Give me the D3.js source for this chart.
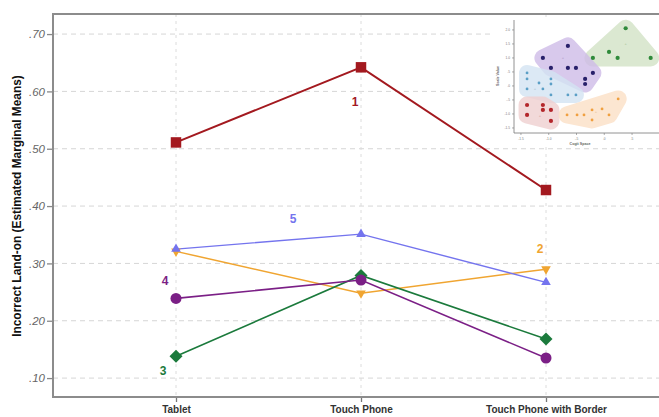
<!DOCTYPE html>
<html>
<head>
<meta charset="utf-8">
<script src="https://cdn.jsdelivr.net/npm/d3@7"></script>
<style>
  html, body { margin: 0; padding: 0; background: #fff; }
  svg { display: block; }
  text { font-family: "Liberation Sans", Arial, sans-serif; }
</style>
</head>
<body>
<svg id="chart" width="659" height="417"></svg>
<script>
// ---------- data ----------
const categories = ["Tablet", "Touch Phone", "Touch Phone with Border"];
const yTicks = [0.10, 0.20, 0.30, 0.40, 0.50, 0.60, 0.70];
const seriesNames = ["1", "2", "3", "4", "5"];
const series1 = [0.511, 0.642, 0.428];
const series2 = [0.321, 0.248, 0.290];
const series3 = [0.138, 0.279, 0.168];
const series4 = [0.239, 0.271, 0.135];
const series5 = [0.325, 0.351, 0.267];
const seriesColors = ["#a3191f", "#f0a531", "#1b7a3c", "#7b1f86", "#7474ee"];
const seriesSymbols = ["square", "triangleDown", "diamond", "circle", "triangleUp"];
const yTitle = "Incorrect Land-on (Estimated Marginal Means)";

// inset scatter (cluster illustration) data, in inset units
const insetXTicks = [1, 2, 3, 4, 5];
const insetYTicks = [1, 2, 3, 4, 5, 6, 7, 8];
const insetXLabels = ["-1.5", "-1.0", "-.5", ".0", ".5"];
const insetYLabels = ["-1.5", "-1.0", "-.5", ".0", ".5", "1.0", "1.5", "2.0"];
const clusterGreenX = [4.77, 4.17, 3.59, 4.48, 5.67];
const clusterGreenY = [8.12, 6.43, 6.00, 6.00, 6.00];
const clusterPurpleX = [1.79, 2.69, 2.08, 2.69, 2.98, 3.31, 3.31, 3.59];
const clusterPurpleY = [6.00, 6.86, 5.29, 5.29, 5.29, 4.50, 4.14, 4.93];
const clusterBlueX = [1.22, 1.22, 1.22, 1.65, 2.08, 2.08, 1.79, 2.08, 2.69, 2.98];
const clusterBlueY = [4.93, 4.50, 3.79, 4.21, 4.50, 4.14, 3.79, 3.36, 3.36, 3.36];
const clusterRedX = [1.22, 1.79, 1.79, 2.08, 1.22, 2.08];
const clusterRedY = [2.64, 2.64, 2.29, 2.29, 1.93, 1.50];
const clusterOrangeX = [4.50, 3.56, 3.92, 3.02, 2.66, 3.27, 4.17, 3.56];
const clusterOrangeY = [3.07, 2.29, 2.36, 1.93, 1.93, 1.93, 1.93, 1.57];
const centroidX = [4.77, 2.51, 1.50, 1.68, 3.70];
const centroidY = [7.00, 6.00, 3.79, 1.86, 2.15];

// ---------- chart ----------
const svg = d3.select("#chart");
const mLeft = 53, mTop = 14, mRight = 659, mBottom = 397;

const x = d3.scalePoint().domain(categories).range([176, 546]);
const y = d3.scaleLinear().domain([0.067, 0.735]).range([mBottom, mTop]);

// gridlines
const grid = svg.append("g");
grid.selectAll("line.h").data(yTicks).join("line")
  .attr("x1", mLeft).attr("x2", mRight)
  .attr("y1", d => y(d)).attr("y2", d => y(d))
  .attr("stroke", "#d6d6d6").attr("stroke-width", 1).attr("stroke-dasharray", "5,4");
grid.selectAll("line.v").data(categories).join("line")
  .attr("x1", d => x(d)).attr("x2", d => x(d))
  .attr("y1", mTop).attr("y2", mBottom)
  .attr("stroke", "#dcdcdc").attr("stroke-width", 1).attr("stroke-dasharray", "3,4");

// axes
const yAxis = d3.axisLeft(y).tickValues(yTicks).tickSize(6).tickPadding(2)
  .tickFormat(d => d3.format(".2f")(d).replace(/^0/, ""));
const gy = svg.append("g").attr("transform", `translate(${mLeft},0)`).call(yAxis);
gy.select(".domain").remove();
gy.selectAll(".tick line").attr("stroke", "#888").attr("stroke-width", 1.3);
gy.selectAll(".tick text").attr("fill", "#666").attr("font-size", 11.5).attr("font-style", "italic");

const xAxis = d3.axisBottom(x).tickSize(5).tickPadding(4);
const gx = svg.append("g").attr("transform", `translate(0,${mBottom})`).call(xAxis);
gx.select(".domain").remove();
gx.selectAll(".tick line").attr("stroke", "#777").attr("stroke-width", 1.3);
gx.selectAll(".tick text").attr("fill", "#333").attr("font-size", 10).attr("font-weight", "bold");

// frame
svg.append("path")
  .attr("d", `M${mRight},${mTop}H${mLeft}V${mBottom}H${mRight}`)
  .attr("fill", "none").attr("stroke", "#8c8c8c").attr("stroke-width", 2);

// y title
svg.append("text")
  .attr("transform", `translate(21,206) rotate(-90)`)
  .attr("text-anchor", "middle").attr("font-size", 11.9).attr("font-weight", "bold")
  .attr("fill", "#111").text(yTitle);

// ---------- inset ----------
const inset = svg.append("g");
inset.append("rect").attr("x", 493).attr("y", 17).attr("width", 166).attr("height", 128).attr("fill", "#fff");
const ix = d3.scaleLinear().domain([0.75, 5.97]).range([514, 659]);
const iy = d3.scaleLinear().domain([0.64, 8.71]).range([133, 20]);

const clusters = [
  { xs: clusterGreenX, ys: clusterGreenY, fill: "#d3e3c6", dot: "#2f8a3a", r: 2.1, pad: 17 },
  { xs: clusterPurpleX, ys: clusterPurpleY, fill: "#cfbce8", dot: "#28206a", r: 2.1, pad: 17 },
  { xs: clusterBlueX, ys: clusterBlueY, fill: "#d4e4f3", dot: "#5b9fc6", r: 1.4, pad: 16 },
  { xs: clusterRedX, ys: clusterRedY, fill: "#f0d0d0", dot: "#b3262b", r: 2.1, pad: 17 },
  { xs: clusterOrangeX, ys: clusterOrangeY, fill: "#fce0c6", dot: "#f0a040", r: 1.4, pad: 17 }
];
const centroidColors = ["#9fbf92", "#a893c8", "#9fb8cc", "#c99a9a", "#e6b98c"];

clusters.forEach(c => {
  const pts = c.xs.map((v, i) => [ix(v), iy(c.ys[i])]);
  const hull = d3.polygonHull(pts);
  inset.append("g").attr("opacity", 0.8)
    .append("path")
    .attr("d", "M" + hull.map(p => p.join(",")).join("L") + "Z")
    .attr("fill", c.fill).attr("stroke", c.fill)
    .attr("stroke-width", c.pad).attr("stroke-linejoin", "round");
});
clusters.forEach(c => {
  inset.selectAll(null).data(c.xs).join("circle")
    .attr("cx", d => ix(d)).attr("cy", (d, i) => iy(c.ys[i]))
    .attr("r", c.r).attr("fill", c.dot);
});
inset.selectAll("text.cent").data(centroidX).join("text")
  .attr("x", d => ix(d)).attr("y", (d, i) => iy(centroidY[i]) + 1.5)
  .attr("text-anchor", "middle").attr("font-size", 4).attr("fill", (d, i) => centroidColors[i])
  .text("+");

// inset axes
inset.append("path").attr("d", `M514,20V133H659`).attr("fill", "none")
  .attr("stroke", "#777").attr("stroke-width", 0.8);
inset.selectAll("line.ixt").data(insetXTicks).join("line")
  .attr("x1", d => ix(d)).attr("x2", d => ix(d)).attr("y1", 133).attr("y2", 135)
  .attr("stroke", "#777").attr("stroke-width", 0.6);
inset.selectAll("text.ixl").data(insetXTicks).join("text")
  .attr("x", d => ix(d)).attr("y", 139.5).attr("text-anchor", "middle")
  .attr("font-size", 3.2).attr("fill", "#777").text((d, i) => insetXLabels[i]);
inset.selectAll("line.iyt").data(insetYTicks).join("line")
  .attr("x1", 512).attr("x2", 514).attr("y1", d => iy(d)).attr("y2", d => iy(d))
  .attr("stroke", "#777").attr("stroke-width", 0.6);
inset.selectAll("text.iyl").data(insetYTicks).join("text")
  .attr("x", 510).attr("y", d => iy(d) + 1).attr("text-anchor", "end")
  .attr("font-size", 3.2).attr("fill", "#777").text((d, i) => insetYLabels[i]);
inset.append("text").attr("x", 580).attr("y", 145).attr("text-anchor", "middle")
  .attr("font-size", 3.6).attr("font-weight", "bold").attr("fill", "#666").text("Cogit Space");
inset.append("text").attr("transform", "translate(499,76) rotate(-90)").attr("text-anchor", "middle")
  .attr("font-size", 3.6).attr("font-weight", "bold").attr("fill", "#666").text("Scale Value");

// ---------- series ----------
const allSeries = [series1, series2, series3, series4, series5];
const line = d3.line().x((d, i) => x(categories[i])).y(d => y(d));
const symbolMap = {
  square: { type: d3.symbolSquare, size: 110, rot: 0 },
  diamond: { type: d3.symbolSquare, size: 85, rot: 45 },
  circle: { type: d3.symbolCircle, size: 95, rot: 0 },
  triangleUp: { type: d3.symbolTriangle, size: 40, rot: 0 },
  triangleDown: { type: d3.symbolTriangle, size: 40, rot: 180 }
};
const lineWidths = [2, 1.5, 1.6, 1.6, 1.4];
allSeries.forEach((vals, si) => {
  svg.append("path").datum(vals).attr("d", line)
    .attr("fill", "none").attr("stroke", seriesColors[si]).attr("stroke-width", lineWidths[si]);
});
allSeries.forEach((vals, si) => {
  const s = symbolMap[seriesSymbols[si]];
  svg.selectAll(null).data(vals).join("path")
    .attr("d", d3.symbol().type(s.type).size(s.size))
    .attr("transform", (d, i) => `translate(${x(categories[i])},${y(d)}) rotate(${s.rot})`)
    .attr("fill", seriesColors[si]);
});

// series labels
const labelCat = [1, 2, 0, 0, 0];
const labelDX = [-6, -6, -13, -11, 117];
const labelVal = [0.575, 0.318, 0.105, 0.262, 0.370];
seriesNames.forEach((n, si) => {
  svg.append("text")
    .attr("x", x(categories[labelCat[si]]) + labelDX[si])
    .attr("y", y(labelVal[si]))
    .attr("text-anchor", "middle").attr("font-size", 12).attr("font-weight", "bold")
    .attr("fill", seriesColors[si]).text(n);
});
</script>
</body>
</html>
